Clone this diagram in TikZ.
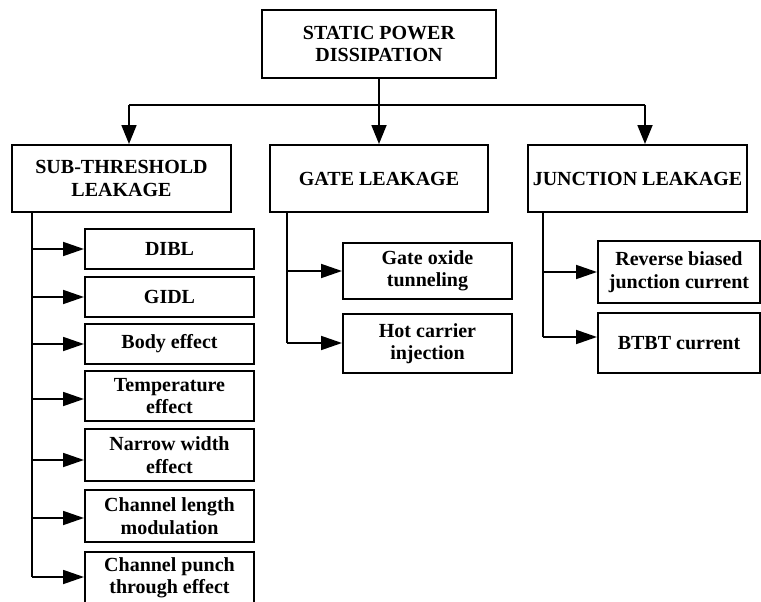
\documentclass[tikz,border=0pt]{standalone}
\usepackage{fontspec}
\setmainfont{Liberation Serif}
\usetikzlibrary{arrows.meta}
\begin{document}
\begin{tikzpicture}[x=1pt,y=-1pt,
  box/.style={draw,line width=2pt,inner sep=0pt,align=center,
    font=\fontsize{20}{22.5}\selectfont\bfseries},
  conn/.style={line width=1.8pt},
  varr/.style={conn,-{Triangle[length=19pt,width=15pt]}},
  harr/.style={conn,-{Triangle[length=21pt,width=14pt]}}]
\useasboundingbox (0,0) rectangle (761,602);
% top
\node[box,minimum width=234pt,minimum height=68pt] (top) at (379,44) {STATIC POWER\\DISSIPATION};
% level 2
\node[box,minimum width=219pt,minimum height=67pt] (sub) at (121.5,178.5) {SUB-THRESHOLD\\LEAKAGE};
\node[box,minimum width=218pt,minimum height=67pt] (gate) at (379,178.5) {GATE LEAKAGE};
\node[box,minimum width=219pt,minimum height=67pt] (junc) at (637.5,178.5) {JUNCTION LEAKAGE};
% bus
\coordinate (busL) at (129,105);
\coordinate (busR) at (645,105);
\draw[conn] (busL) -- (busR);
\draw[conn] (top.south) -- (top.south |- busL);
\draw[varr] (busL) -- (busL |- sub.north);
\draw[varr] (top.south |- busL) -- (gate.north);
\draw[varr] (busR) -- (busR |- junc.north);
% sub-threshold items
\node[box,minimum width=169pt,minimum height=40pt] (dibl) at (169.5,249) {DIBL};
\node[box,minimum width=169pt,minimum height=40pt] (gidl) at (169.5,297) {GIDL};
\node[box,minimum width=169pt,minimum height=40pt] (body) at (169.5,344) {Body effect};
\node[box,minimum width=169pt,minimum height=50pt] (temp) at (169.5,396) {Temperature\\effect};
\node[box,minimum width=169pt,minimum height=52pt] (narrow) at (169.5,455) {Narrow width\\effect};
\node[box,minimum width=169pt,minimum height=52pt] (chlen) at (169.5,516) {Channel length\\modulation};
\node[box,minimum width=169pt,minimum height=52pt] (punch) at (169.5,578) {Channel punch\\through effect};
\coordinate (s1) at (32,212);
\coordinate (s1end) at (32,577);
\draw[conn] (s1) -- (s1end);
\draw[harr] (s1 |- dibl.west) -- (dibl.west);
\draw[harr] (s1 |- gidl.west) -- (gidl.west);
\draw[harr] (s1 |- body.west) -- (body.west);
\draw[harr] ([yshift=-3pt]s1 |- temp.west) -- ([yshift=-3pt]temp.west);
\draw[harr] ([yshift=-5pt]s1 |- narrow.west) -- ([yshift=-5pt]narrow.west);
\draw[harr] ([yshift=-2pt]s1 |- chlen.west) -- ([yshift=-2pt]chlen.west);
\draw[harr] (s1end) -- (s1end -| punch.west);
% gate items
\node[box,minimum width=169pt,minimum height=56pt] (gox) at (427.5,271) {Gate oxide\\tunneling};
\node[box,minimum width=169pt,minimum height=59pt] (hot) at (427.5,343.5) {Hot carrier\\injection};
\coordinate (s2) at (287,212);
\coordinate (s2end) at (287,343);
\draw[conn] (s2) -- (s2end);
\draw[harr] (s2 |- gox.west) -- (gox.west);
\draw[harr] (s2end) -- (s2end -| hot.west);
% junction items
\node[box,minimum width=162pt,minimum height=62pt] (rev) at (679,272) {Reverse biased\\junction current};
\node[box,minimum width=162pt,minimum height=60pt] (btbt) at (679,343) {BTBT current};
\coordinate (s3) at (543,212);
\coordinate (s3end) at (543,337);
\draw[conn] (s3) -- (s3end);
\draw[harr] (s3 |- rev.west) -- (rev.west);
\draw[harr] (s3end) -- (s3end -| btbt.west);
\end{tikzpicture}
\end{document}
